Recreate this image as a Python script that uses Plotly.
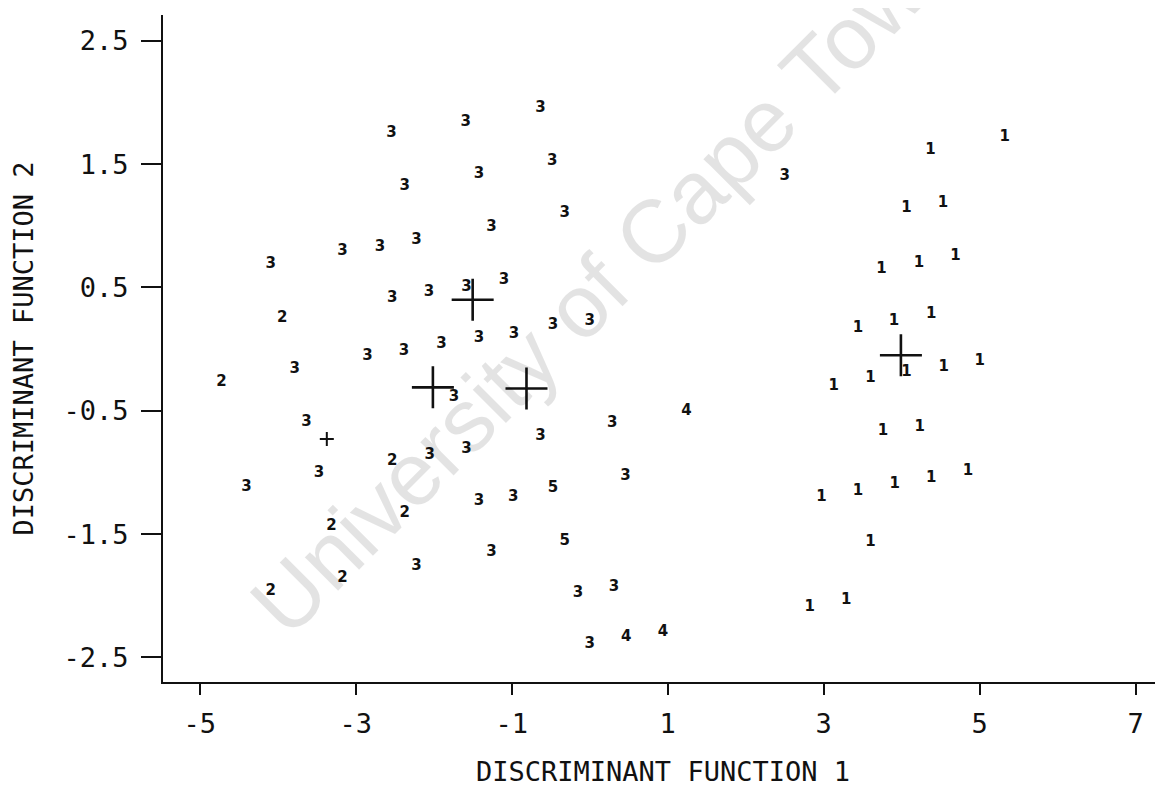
import plotly.graph_objects as go

# ── Data ─────────────────────────────────────────────────────
# group 1 (right cluster)
g1_x = [5.32, 4.37, 4.06, 4.53, 3.74, 4.22, 4.69, 3.44, 3.90, 4.38, 4.06, 3.60, 3.13,
        4.54, 5.00, 3.76, 4.23, 2.97, 3.44, 3.91, 4.38, 4.85, 3.60, 2.82, 3.29]
g1_y = [1.72, 1.61, 1.14, 1.18, 0.65, 0.70, 0.75, 0.17, 0.23, 0.28, -0.19, -0.24, -0.30,
        -0.15, -0.10, -0.67, -0.63, -1.20, -1.15, -1.10, -1.05, -0.99, -1.57, -2.09, -2.04]

# group 2
g2_x = [-3.94, -4.72, -2.53, -2.37, -3.31, -3.17, -4.09]
g2_y = [0.25, -0.27, -0.91, -1.33, -1.44, -1.86, -1.96]

# group 3
g3_x = [-0.63, -1.59, -2.54, -0.48, -1.42, -2.37, -0.32, -1.26, -2.22, -2.69, -3.17,
        -4.09, -2.53, -2.06, -1.58, -1.10, -0.47, 0.00, -1.42, -0.97, -2.38, -1.90,
        -2.85, -3.78, -1.74, -3.63, -3.47, -4.40, -2.05, -1.58, -1.42, -2.22, -0.63,
        0.29, 0.46, -0.98, -1.26, -0.15, 0.31, 0.00, 2.50]
g3_y = [1.95, 1.84, 1.75, 1.52, 1.42, 1.32, 1.10, 0.99, 0.88, 0.83, 0.79,
        0.69, 0.41, 0.46, 0.50, 0.56, 0.19, 0.23, 0.09, 0.12, -0.02, 0.04,
        -0.06, -0.16, -0.39, -0.59, -1.01, -1.12, -0.86, -0.81, -1.23, -1.76, -0.71,
        -0.60, -1.03, -1.20, -1.65, -1.98, -1.93, -2.39, 1.40]

# group 4
g4_x = [1.24, 0.47, 0.94]
g4_y = [-0.50, -2.34, -2.30]

# group 5
g5_x = [-0.47, -0.32]
g5_y = [-1.13, -1.56]

# group centroids
cent_x = [-1.50, -2.01, -0.81, 3.99]
cent_y = [0.40, -0.31, -0.32, -0.05]
small_cent_x = [-3.37]
small_cent_y = [-0.73]

x_tick_vals = [-5, -3, -1, 1, 3, 5, 7]
x_tick_text = ["-5", "-3", "-1", "1", "3", "5", "7"]
y_tick_vals = [-2.5, -1.5, -0.5, 0.5, 1.5, 2.5]
y_tick_text = ["-2.5", "-1.5", "-0.5", "0.5", "1.5", "2.5"]

INK = "#111111"
AXIS_FONT = dict(family="DejaVu Sans Mono", size=27, color=INK)

fig = go.Figure()

for xs, ys, label in [
    (g1_x, g1_y, "1"),
    (g2_x, g2_y, "2"),
    (g3_x, g3_y, "3"),
    (g4_x, g4_y, "4"),
    (g5_x, g5_y, "5"),
]:
    fig.add_trace(go.Scatter(
        x=xs, y=ys,
        mode="text",
        text=[label] * len(xs),
        textposition="middle center",
        textfont=dict(family="DejaVu Sans", size=15, color=INK, weight="bold"),
        hoverinfo="x+y",
        showlegend=False,
    ))

fig.add_trace(go.Scatter(
    x=cent_x, y=cent_y,
    mode="markers",
    marker=dict(symbol="cross-thin", size=30, line=dict(color=INK, width=2.6)),
    showlegend=False,
))
fig.add_trace(go.Scatter(
    x=small_cent_x, y=small_cent_y,
    mode="markers",
    marker=dict(symbol="cross-thin", size=10, line=dict(color=INK, width=2)),
    showlegend=False,
))

# watermark
fig.add_annotation(
    text="University of Cape Town",
    xref="paper", yref="paper",
    x=0.442, y=0.603,
    showarrow=False,
    textangle=-45,
    font=dict(family="Liberation Sans", size=89, color="rgba(0,0,0,0.11)"),
)

# the page body has an 8px margin, so the figure is 8px smaller
fig.update_layout(
    width=1155, height=779,
    paper_bgcolor="white",
    plot_bgcolor="white",
    margin=dict(l=155, r=0, t=7, b=105),
    font=AXIS_FONT,
    xaxis=dict(
        range=[-5.47, 7.35],
        tickvals=x_tick_vals, ticktext=x_tick_text,
        ticks="outside", ticklen=11, tickwidth=2, tickcolor=INK,
        showline=True, linecolor=INK, linewidth=2,
        showgrid=False, zeroline=False,
        tickfont=AXIS_FONT,
        ticklabelstandoff=6,
        title=dict(text="DISCRIMINANT FUNCTION 1", font=AXIS_FONT, standoff=36),
        automargin=False,
    ),
    yaxis=dict(
        range=[-2.70, 2.71],
        tickvals=y_tick_vals, ticktext=y_tick_text,
        ticks="outside", ticklen=20, tickwidth=2, tickcolor=INK,
        showline=True, linecolor=INK, linewidth=2,
        showgrid=False, zeroline=False,
        tickfont=AXIS_FONT,
        ticklabelstandoff=7,
        title=dict(text="DISCRIMINANT FUNCTION 2", font=AXIS_FONT, standoff=22),
        automargin=False,
    ),
)

fig.write_html("out.html")
